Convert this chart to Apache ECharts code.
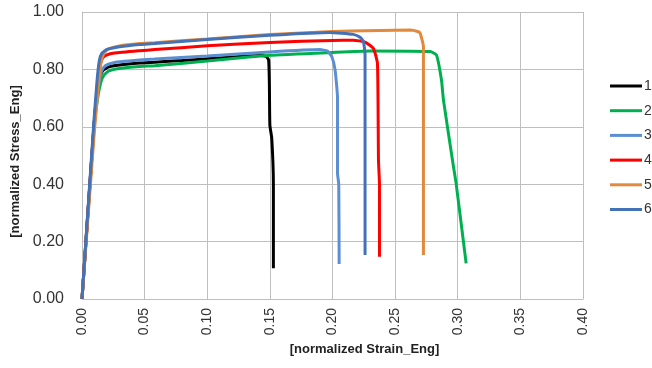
<!DOCTYPE html>
<html>
<head>
<meta charset="utf-8">
<script src="https://cdn.jsdelivr.net/npm/echarts@6/dist/echarts.min.js"></script>
<style>
    html, body { margin: 0; padding: 0; background: #fff; }
    #main { width: 652px; height: 368px; }
</style>
</head>
<body>
<div id="main"></div>
<script>
'use strict';

// series names (legend)
var names = ['1', '2', '3', '4', '5', '6'];

// [strain, stress]
var curve1 = [[0, 0], [0.0095, 0.60], [0.012, 0.72], [0.014, 0.77], [0.0165, 0.795], [0.021, 0.808], [0.03, 0.815],
    [0.046, 0.822], [0.058, 0.825], [0.08, 0.831], [0.10, 0.837], [0.12, 0.843], [0.142, 0.848], [0.147, 0.845],
    [0.149, 0.833], [0.1496, 0.75], [0.150, 0.606], [0.1515, 0.56], [0.1528, 0.40], [0.1528, 0.107]];

var curve2 = [[0, 0], [0.0095, 0.59], [0.0125, 0.70], [0.015, 0.755], [0.0175, 0.780], [0.0215, 0.795], [0.03, 0.803],
    [0.046, 0.810], [0.058, 0.813], [0.10, 0.829], [0.15, 0.849], [0.20, 0.859], [0.23, 0.864], [0.278, 0.862],
    [0.283, 0.850], [0.287, 0.763], [0.2886, 0.693], [0.2966, 0.461], [0.2987, 0.403], [0.3067, 0.124]];

var curve3 = [[0, 0], [0.0095, 0.60], [0.0125, 0.72], [0.015, 0.785], [0.0175, 0.808], [0.021, 0.818], [0.028, 0.826],
    [0.046, 0.833], [0.058, 0.836], [0.10, 0.847], [0.15, 0.861], [0.19, 0.869], [0.196, 0.864], [0.1994, 0.845],
    [0.202, 0.80], [0.204, 0.70], [0.204, 0.438], [0.205, 0.40], [0.2053, 0.122]];

var curve4 = [[0, 0], [0.0095, 0.60], [0.0125, 0.75], [0.0145, 0.815], [0.0165, 0.840], [0.0195, 0.850], [0.026, 0.857],
    [0.046, 0.865], [0.058, 0.869], [0.10, 0.882], [0.15, 0.894], [0.20, 0.901], [0.2167, 0.902], [0.226, 0.895],
    [0.2327, 0.873], [0.2359, 0.82], [0.2367, 0.484], [0.2375, 0.40], [0.2375, 0.147]];

var curve5 = [[0, 0], [0.0098, 0.58], [0.013, 0.74], [0.015, 0.82], [0.0172, 0.853], [0.0205, 0.870], [0.03, 0.882],
    [0.046, 0.890], [0.058, 0.893], [0.10, 0.906], [0.15, 0.922], [0.20, 0.932], [0.214, 0.934], [0.262, 0.937],
    [0.268, 0.932], [0.270, 0.926], [0.2726, 0.88], [0.2726, 0.153]];

var curve6 = [[0, 0], [0.0092, 0.60], [0.012, 0.76], [0.0138, 0.830], [0.0158, 0.856], [0.0195, 0.869], [0.03, 0.879],
    [0.046, 0.887], [0.058, 0.890], [0.10, 0.904], [0.15, 0.919], [0.198, 0.929], [0.2167, 0.922], [0.222, 0.912],
    [0.2247, 0.897], [0.226, 0.85], [0.226, 0.153]];

var curves = [curve1, curve2, curve3, curve4, curve5, curve6];
var colors = ['#000000', '#00B050', '#5B8FD2', '#FF0000', '#E3893C', '#4472B6'];

var xTitle = '[normalized Strain_Eng]';
var yTitle = '[normalized Stress_Eng]';

var fontName = '"Liberation Sans", Arial, sans-serif';

var myChart = echarts.init(document.getElementById('main'), null, { renderer: 'canvas' });

var series = [];
for (var i = 0; i < curves.length; i++) {
    series.push({
        name: names[i],
        type: 'line',
        data: curves[i],
        showSymbol: false,
        symbol: 'none',
        smooth: 0.15,
        lineStyle: { width: 3, color: colors[i] },
        itemStyle: { color: colors[i] }
    });
}

var option = {
    animation: false,
    textStyle: { fontFamily: fontName },
    grid: { left: 82, right: 69, top: 12, bottom: 69 },
    legend: {
        orient: 'vertical',
        left: 610,
        top: 78,
        padding: 0,
        icon: 'rect',
        itemWidth: 32,
        itemHeight: 3,
        itemGap: 8.7,
        textStyle: { fontSize: 14, lineHeight: 16, color: '#333', fontFamily: fontName, padding: [0, 0, 0, -3] },
        data: names
    },
    xAxis: {
        type: 'value',
        min: 0,
        max: 0.4,
        interval: 0.05,
        name: xTitle,
        nameLocation: 'middle',
        nameGap: 44,
        nameTextStyle: { fontSize: 13, fontWeight: 'bold', color: '#222', padding: [0, 0, 0, 64] },
        axisLine: { show: true, lineStyle: { color: '#bfbfbf' } },
        axisTick: { show: false },
        axisLabel: {
            rotate: 90,
            margin: 9,
            fontSize: 14,
            color: '#333',
            formatter: function(v) { return v.toFixed(2); }
        },
        splitLine: { show: true, lineStyle: { color: '#bfbfbf' } }
    },
    yAxis: {
        type: 'value',
        min: 0,
        max: 1,
        interval: 0.2,
        name: yTitle,
        nameLocation: 'middle',
        nameGap: 55,
        nameTextStyle: { fontSize: 13, fontWeight: 'bold', color: '#222', padding: [0, 12, 0, 0] },
        axisLine: { show: true, lineStyle: { color: '#bfbfbf' } },
        axisTick: { show: false },
        axisLabel: {
            margin: 18,
            fontSize: 16,
            color: '#333',
            formatter: function(v) { return v.toFixed(2); }
        },
        splitLine: { show: true, lineStyle: { color: '#bfbfbf' } }
    },
    series: series
};

myChart.setOption(option);
</script>
</body>
</html>
